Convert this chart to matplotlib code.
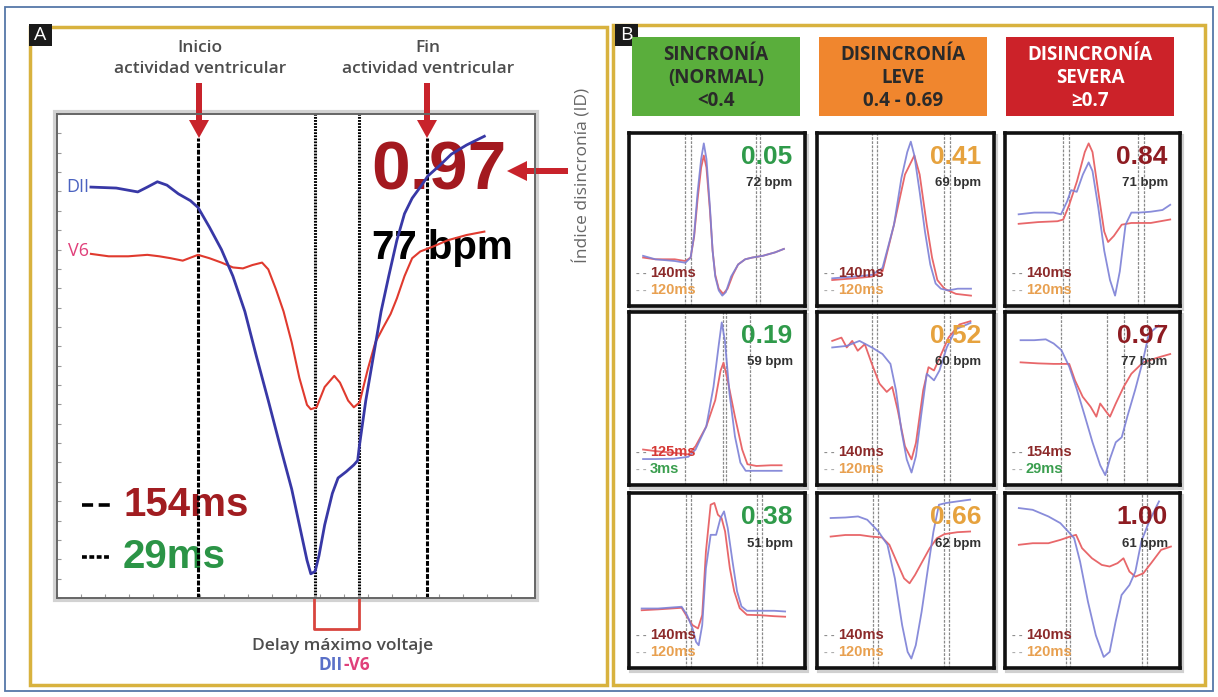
import matplotlib
matplotlib.use("Agg")
import matplotlib.pyplot as plt
from matplotlib.patches import Rectangle, FancyArrow

W, H = 1218, 697
plt.rcParams["lines.scale_dashes"] = False

# ---- Panel A: DII and V6 traces, in % of the plot box (x left->right, y bottom->top)
DII_X = [7.1, 12.4, 16.9, 18.9, 21.0, 23.0, 25.4, 27.9, 29.5, 31.9, 34.4, 36.8, 39.3,
         41.7, 44.2, 46.6, 49.1, 51.1, 52.3, 53.1, 54.0, 54.8, 56.0, 57.6, 58.8, 60.5,
         62.1, 62.9, 63.3, 64.6, 66.2, 67.8, 69.4, 71.1, 72.7, 74.3, 76.0, 77.6, 80.1,
         82.5, 85.7, 89.4]
DII_Y = [84.9, 84.7, 83.9, 84.9, 86.0, 85.3, 83.5, 82.1, 80.7, 76.6, 72.0, 66.5, 59.2,
         50.0, 40.8, 31.7, 22.5, 13.3, 7.8, 5.0, 5.5, 8.7, 15.1, 21.6, 24.8, 26.1,
         27.5, 28.4, 31.7, 40.8, 50.0, 59.2, 66.5, 73.9, 79.4, 82.6, 84.9, 87.2, 89.4,
         91.7, 93.6, 95.4]
V6_X = [7.1, 10.8, 14.9, 18.9, 21.4, 23.8, 26.3, 28.7, 29.5, 31.9, 34.4, 36.8, 38.9,
        40.9, 42.9, 44.2, 45.8, 47.4, 49.1, 50.7, 52.3, 53.1, 54.3, 56.0, 58.0, 59.2,
        60.9, 62.1, 63.3, 65.0, 66.6, 68.3, 69.8, 71.1, 72.7, 74.3, 76.0, 78.4, 81.7,
        85.7, 89.4]
V6_Y = [71.1, 70.6, 70.6, 70.9, 70.6, 70.2, 69.7, 70.6, 70.9, 70.2, 69.3, 68.3, 68.1,
        68.8, 69.3, 67.9, 63.8, 59.2, 52.8, 45.5, 39.9, 39.0, 39.4, 43.6, 45.9, 44.5,
        40.8, 39.4, 40.4, 47.2, 52.8, 56.0, 58.7, 61.9, 66.5, 70.2, 71.6, 72.5, 73.9,
        75.0, 75.7]
MARKERS_A = [29.5, 54.0, 63.1, 77.4]   # inicio, pico DII, pico V6, fin

# ---- Panel B
HEADERS = [["SINCRONÍA", "(NORMAL)", "<0.4"],
           ["DISINCRONÍA", "LEVE", "0.4 - 0.69"],
           ["DISINCRONÍA", "SEVERA", "≥0.7"]]
HEADER_COLORS = ["#5aae3c", "#f0862e", "#cc2229"]
HEADER_TEXT = ["#2a2a2a", "#2a2a2a", "#ffffff"]

ID_VALUES = ["0.05", "0.41", "0.84", "0.19", "0.52", "0.97", "0.38", "0.66", "1.00"]
BPM = [72, 69, 71, 59, 60, 77, 51, 62, 61]
DUR_TOP = ["140ms", "140ms", "140ms", "125ms", "140ms", "154ms", "140ms", "140ms", "140ms"]
DUR_BOT = ["120ms", "120ms", "120ms", "3ms", "120ms", "29ms", "120ms", "120ms", "120ms"]
DUR_TOP_COLORS = ["#8c2a2a", "#8c2a2a", "#8c2a2a", "#d63a36", "#8c2a2a",
                  "#8c2a2a", "#8c2a2a", "#8c2a2a", "#8c2a2a"]
DUR_BOT_COLORS = ["#e8a050", "#e8a050", "#e8a050", "#3a9e4e", "#e8a050",
                  "#3a9e4e", "#e8a050", "#e8a050", "#e8a050"]
ID_COLORS = ["#2f9a4a", "#e6a23e", "#8e1c22"]

VLINES = [[32, 35, 72, 74.5], [31, 34, 72, 75], [33, 36.5, 76, 79.5],
          [32, 53.5, 55, 69], [31, 34, 72, 75], [32, 58, 68, 81],
          [32.6, 35.5, 72.6, 75.3], [31.5, 34.2, 72, 74.5], [35, 37.2, 78, 81.3]]

# traces of each small panel, (x %, y %)
DII_005 = [(8, 29), (15, 27), (26, 26), (32, 25), (35, 28), (37, 41), (39, 66), (41, 85), (42.5, 94),
           (44, 85), (46, 57), (47.5, 32), (49, 17), (51, 9), (53, 6), (55, 8), (58, 17), (62, 24),
           (66, 27), (70, 28), (76, 29), (83, 31), (88, 33)]
V6_005 = [(8, 28), (15, 27), (26, 27), (32, 26), (35, 28), (37, 40), (39, 62), (41, 80), (42.5, 87),
          (44, 80), (46, 55), (47.5, 32), (49, 18), (51, 10), (53.5, 7), (56, 10), (59, 18), (62, 24),
          (66, 27), (70, 28), (76, 29), (83, 31), (88, 33)]
DII_041 = [(8.6, 16), (21, 17), (31, 18), (37, 22), (43.5, 47), (47.7, 74), (51, 89), (53, 95),
           (55, 87), (58, 66), (61, 43), (64, 24), (67, 13), (70, 10), (74, 9), (79.5, 10), (87, 10)]
V6_041 = [(8.6, 15), (21, 16), (31, 17), (37, 20), (43.5, 47), (49.7, 76), (55, 87), (58, 76),
          (62, 47), (65, 28), (68, 15), (72, 10), (78.5, 7), (87, 6)]
DII_084 = [(7.8, 53), (16.7, 54), (27.8, 54), (32, 53), (35.5, 60.5), (37.8, 67), (41, 66),
           (44.5, 76), (47.8, 83), (50, 78), (53.3, 57), (56.7, 32), (60, 15), (62.9, 6),
           (65.6, 20), (68.9, 47), (72.2, 54), (76.7, 54), (83.3, 54.5), (90, 55.5), (94.4, 58.5)]
V6_084 = [(7.8, 47.5), (18.9, 48.5), (30, 49), (33.3, 50), (36.7, 58.5), (41.1, 72), (45.6, 89),
          (47.8, 94), (50, 89), (53.3, 66), (56.7, 43), (58.9, 37), (62.2, 40.5), (66.7, 47),
          (72.2, 48), (83.3, 48), (94.4, 50)]
DII_019 = [(8, 15), (15, 15), (25.5, 15.2), (33.7, 16.3), (37.8, 20.5), (43.9, 33.8), (48, 56.7),
           (51, 81), (52.7, 94), (54.5, 83.3), (57.1, 52.9), (60.2, 28.1), (63.3, 12.9),
           (66.3, 8.2), (72.4, 8.2), (80.6, 8.2), (86.7, 8.2)]
V6_019 = [(8, 20.5), (15, 19.6), (25.5, 18.6), (33.7, 17.7), (37.8, 22.4), (43.9, 33.8), (49, 49),
          (52, 66), (53.7, 70.7), (56.1, 60.3), (60.2, 39.5), (64.3, 20.5), (67.3, 12), (72.4, 11),
          (80.6, 11.4), (86.7, 11.4)]
DII_052 = [(8.6, 79.5), (16.8, 80.4), (24, 83.3), (31, 79.5), (37, 75.7), (41.5, 70), (44.6, 54.8),
           (47.6, 32), (50.7, 14.8), (53.4, 7.2), (55.9, 16.7), (59, 41.4), (62, 64.3), (66.1, 60.5),
           (69.2, 66.2), (73.3, 79.5), (78.4, 90), (86.7, 93.7)]
V6_052 = [(8.6, 83.3), (13.8, 85.2), (16.8, 79.5), (19.9, 83.3), (23, 77.6), (27, 81.4), (31, 70),
          (35.3, 58.6), (39.4, 53.8), (42.5, 56.7), (45.6, 43.3), (49.7, 22.4), (53.4, 14.8),
          (55.9, 24.3), (60, 54.8), (63, 68.1), (66.1, 66.2), (70.2, 75.7), (74.3, 85.2),
          (80.5, 92.8), (86.7, 94.7)]
DII_097 = [(8.9, 83.7), (16.7, 83.7), (23.3, 84.2), (27.8, 81.8), (32.2, 78), (36.7, 68.4),
           (41.1, 55.1), (45.6, 39.9), (50, 24.7), (54.4, 11.4), (57.3, 5.7), (60, 15.2),
           (63.3, 24.7), (66.7, 27.6), (70, 39.9), (74.4, 55.1), (78.9, 72.2), (82.2, 87.5), (87.8, 92.2)]
V6_097 = [(8.9, 70.9), (18.9, 70.3), (27.8, 70), (32.2, 70), (36.7, 70), (40, 60.5), (44.4, 51),
          (48.9, 45.2), (52.2, 39.5), (54.4, 47.1), (57.8, 42.4), (60, 39.5), (63.3, 47.1),
          (67.8, 56.7), (72.2, 64.3), (78.9, 70.9), (87.8, 73.8), (94.4, 75.7)]
DII_038 = [(7.2, 34), (16.5, 34), (29.9, 35), (33, 30.2), (36.1, 22.6), (38.1, 14.9), (39.6, 13),
           (41.6, 24.5), (43.7, 57), (46.4, 76.1), (49.5, 76.1), (52, 85.7), (54, 89.5), (56.1, 80),
           (58.8, 61), (61.4, 43.8), (63.9, 35.2), (67, 32.7), (74.2, 32.7), (82.5, 32.7), (88.7, 32.3)]
V6_038 = [(7.2, 33), (16.5, 33.5), (29.9, 34.4), (33, 29.3), (36.1, 24.5), (39.2, 22.6), (41.6, 30.2),
          (43.7, 66.5), (46.4, 93.3), (48.5, 94.3), (50.5, 87.6), (52.6, 85.7), (54.6, 78), (57.3, 57),
          (59.8, 43.8), (62.9, 34.2), (67, 30.4), (74.2, 30.2), (82.5, 29.6), (88.7, 29.3)]
DII_066 = [(7.7, 85.7), (16, 86), (23.2, 86.6), (28.4, 84.7), (34.7, 78), (39.8, 70.4), (44, 51.2),
           (48.1, 24.5), (51.2, 9.2), (53.3, 5.4), (55.8, 13), (59.1, 32.1), (62.7, 57), (65.8, 78),
           (68.9, 93.3), (73, 94.3), (79.3, 95.2), (86.5, 96.2)]
V6_066 = [(7.7, 75.1), (16, 76), (24.3, 76), (30.5, 75.1), (36.7, 74.6), (40.9, 70.4), (45, 60.8),
          (49.2, 51.2), (52.3, 48.4), (55.4, 53.2), (59.5, 60.8), (63.7, 68.5), (67.8, 74.2),
          (72, 76.5), (79.3, 77.6), (86.5, 78)]
DII_100 = [(7.9, 91.4), (15.8, 90.4), (24.8, 86.6), (31.6, 82.8), (36.1, 78), (39.5, 74.2),
           (42.9, 60.8), (47.4, 37.9), (51.9, 18.7), (56.4, 6.3), (59.8, 9.2), (63.2, 26.4),
           (66.6, 41.7), (71.1, 47.4), (74.5, 55.1), (77.9, 72.3), (82.4, 83.8), (88, 95.2)]
V6_100 = [(7.9, 70.4), (15.8, 71.3), (24.8, 71.3), (31.6, 73.2), (37.2, 75.1), (40.6, 76.1),
          (44, 68.5), (49.7, 62.7), (55.3, 58.9), (59.8, 58), (64.3, 59.9), (67.7, 62.7),
          (71.1, 55.1), (74.5, 52.2), (79, 54.1), (83.5, 59.9), (89.2, 67.5), (94.8, 69.4)]

TRACES = [(DII_005, V6_005), (DII_041, V6_041), (DII_084, V6_084),
          (DII_019, V6_019), (DII_052, V6_052), (DII_097, V6_097),
          (DII_038, V6_038), (DII_066, V6_066), (DII_100, V6_100)]

# pixel layout of the small panels
COLS_PX = [(629, 805), (817, 994), (1005, 1180)]
ROWS_PX = [(133, 306), (312, 485), (493, 668)]
HEAD_PX = [(632, 800), (819, 987), (1006, 1174)]

SANS = ["Liberation Sans", "DejaVu Sans"]
MYRIAD = ["Open Sans", "DejaVu Sans"]
RED = "#c8232b"


def pbox(fig, x0, y0, x1, y1):
    # axes placed by pixel box (top-left origin)
    return fig.add_axes([x0 / W, 1 - y1 / H, (x1 - x0) / W, (y1 - y0) / H])


def main():
    fig = plt.figure(figsize=(W / 100, H / 100), dpi=100)
    fig.patch.set_facecolor("white")

    bg = fig.add_axes([0, 0, 1, 1])
    bg.set_xlim(0, W)
    bg.set_ylim(H, 0)
    bg.axis("off")

    # frames
    bg.add_patch(Rectangle((5, 7), 1208, 684, fill=False, ec="#5577a8", lw=1.3))
    bg.add_patch(Rectangle((30, 27), 577, 658, fill=False, ec="#d8b23e", lw=2.5))
    bg.add_patch(Rectangle((613, 25), 592, 660, fill=False, ec="#d8b23e", lw=2.5))
    for x0, lab in [(29, "A"), (615, "B")]:
        bg.add_patch(Rectangle((x0, 24), 23, 22, fc="#1a1a1a", ec="none"))
        bg.text(x0 + 11.5, 35.5, lab, color="white", fontsize=14, ha="center", va="center",
                family=MYRIAD)

    # ---------------- Panel A ----------------
    bg.add_patch(Rectangle((55, 112), 482, 488, fill=False, ec="#d2d2d2", lw=3))
    ax = pbox(fig, 57, 114, 535, 598)
    ax.set_facecolor("none")
    ax.set_xlim(0, 100)
    ax.set_ylim(0, 100)
    for s in ax.spines.values():
        s.set_color("#666666")
        s.set_linewidth(1.4)
    ax.set_xticks(range(0, 101, 5))
    ax.set_yticks(range(0, 101, 4))
    ax.tick_params(direction="in", length=3, color="#999999", labelleft=False,
                   labelbottom=False)

    ax.axvline(MARKERS_A[0], ymax=0.95, color="k", lw=2.2, dashes=(3.5, 1.2))
    ax.axvline(MARKERS_A[3], ymax=0.95, color="k", lw=2.2, dashes=(3.5, 1.2))
    ax.axvline(MARKERS_A[1], color="k", lw=2.2, dashes=(1.3, 0.9))
    ax.axvline(MARKERS_A[2], color="k", lw=2.2, dashes=(1.3, 0.9))

    ax.plot(V6_X, V6_Y, color="#e03a2e", lw=1.5)
    ax.plot(DII_X, DII_Y, color="#3838a6", lw=2.0)

    bg.text(89, 187, "DII", color="#4a62c0", fontsize=13, ha="right", va="center", family=MYRIAD)
    bg.text(89, 251, "V6", color="#e0407a", fontsize=13, ha="right", va="center", family=MYRIAD)

    for x, word in [(200, "Inicio"), (428, "Fin")]:
        bg.text(x, 48, word, color="#4d4d4d", fontsize=12.5, ha="center", va="center",
                family=MYRIAD, fontweight="semibold")
        bg.text(x, 69, "actividad ventricular", color="#4d4d4d", fontsize=12.5,
                ha="center", va="center", family=MYRIAD, fontweight="semibold")
        bg.add_patch(FancyArrow(x - 1, 83, 0, 55, width=6, head_width=20, head_length=18,
                                length_includes_head=True, color=RED, lw=0))
    bg.add_patch(FancyArrow(568, 171, -61, 0, width=6, head_width=20, head_length=20,
                            length_includes_head=True, color=RED, lw=0))

    bg.text(371, 171, "0.97", color="#a3191f", fontsize=50, fontweight="bold", ha="left",
            va="center", family=SANS)
    bg.text(372, 248, "77 bpm", color="black", fontsize=29, fontweight="bold", ha="left",
            va="center", family=SANS)
    bg.text(582, 175, "Índice disincronía (ID)", color="#666666", fontsize=12.5, rotation=90,
            ha="center", va="center", family=MYRIAD)

    bg.plot([82, 111], [505, 505], color="k", lw=2.6, dashes=(8, 4))
    bg.plot([82, 111], [557, 557], color="k", lw=2.6, dashes=(3.5, 1.8))
    bg.text(124, 505, "154ms", color="#a11d21", fontsize=29, fontweight="bold", ha="left",
            va="center", family=SANS)
    bg.text(123, 557, "29ms", color="#2b9446", fontsize=29, fontweight="bold", ha="left",
            va="center", family=SANS)

    # delay bracket
    bg.plot([314, 314, 359, 359], [599, 629, 629, 599], color="#d8453e", lw=2)
    bg.text(343, 646, "Delay máximo voltaje", color="#4d4d4d", fontsize=12.5, ha="center",
            va="center", family=MYRIAD, fontweight="semibold")
    bg.text(343, 665, "DII", color="#5a70c8", fontsize=12.5, ha="right", va="center",
            family=MYRIAD, fontweight="bold")
    bg.text(343, 665, "-V6", color="#e0407a", fontsize=12.5, ha="left", va="center",
            family=MYRIAD, fontweight="bold")

    # ---------------- Panel B ----------------
    for (x0, x1), lines, fc, tc in zip(HEAD_PX, HEADERS, HEADER_COLORS, HEADER_TEXT):
        bg.add_patch(Rectangle((x0, 37), x1 - x0, 79, fc=fc, ec="none"))
        for k, line in enumerate(lines):
            bg.text((x0 + x1) / 2, 55 + 23 * k, line, color=tc, fontsize=13.5,
                    fontweight="bold", ha="center", va="center", family=MYRIAD)

    for i in range(9):
        r, c = divmod(i, 3)
        x0, x1 = COLS_PX[c]
        y0, y1 = ROWS_PX[r]
        bg.add_patch(Rectangle((x0 + 2, y0 + 3), x1 - x0, y1 - y0, fc="#b8b8b8", ec="#d0d0d0",
                               lw=3, zorder=0))
        sa = pbox(fig, x0, y0, x1, y1)
        sa.set_xlim(0, 100)
        sa.set_ylim(0, 100)
        sa.set_xticks([])
        sa.set_yticks([])
        for s in sa.spines.values():
            s.set_color("#111111")
            s.set_linewidth(2.6)
        for xv in VLINES[i]:
            sa.axvline(xv, color="#8a8a8a", lw=0.9, dashes=(2, 1))
        dii, v6 = TRACES[i]
        sa.plot([p[0] for p in v6], [p[1] for p in v6], color="#e8676a", lw=1.3)
        sa.plot([p[0] for p in dii], [p[1] for p in dii], color="#7c80d6", lw=1.3, alpha=0.9)

        sa.text(93, 86, ID_VALUES[i], color=ID_COLORS[c], fontsize=19, fontweight="bold",
                ha="right", va="center", family=SANS)
        sa.text(93, 71, f"{BPM[i]} bpm", color="#333333", fontsize=9.5, fontweight="bold",
                ha="right", va="center", family=SANS)
        sa.text(4, 19, "- -", color="#888888", fontsize=8, fontweight="bold", ha="left",
                va="center", family=SANS)
        sa.text(12, 19, DUR_TOP[i], color=DUR_TOP_COLORS[i], fontsize=10.5, fontweight="bold",
                ha="left", va="center", family=SANS)
        sa.text(4, 9, "- -", color="#aaaaaa", fontsize=8, fontweight="bold", ha="left",
                va="center", family=SANS)
        sa.text(12, 9, DUR_BOT[i], color=DUR_BOT_COLORS[i], fontsize=10.5, fontweight="bold",
                ha="left", va="center", family=SANS)

    fig.savefig("out.png", dpi=100, facecolor="white")


if __name__ == "__main__":
    main()
